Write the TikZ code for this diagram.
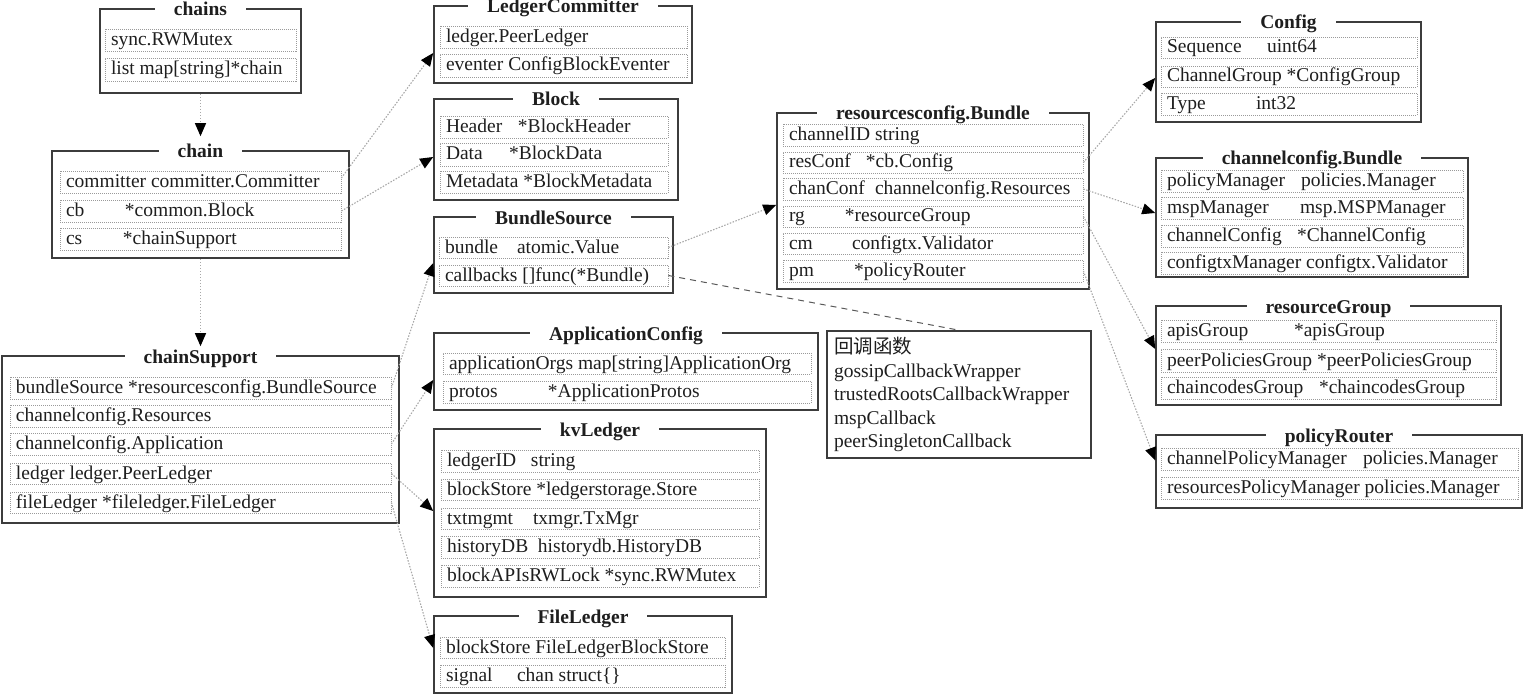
\documentclass[tikz,border=0pt]{standalone}
\usepackage{fontspec}
\setmainfont{Liberation Serif}
\newfontfamily\cjkfont{Noto Sans CJK SC}
\usetikzlibrary{arrows.meta}

\definecolor{boxline}{HTML}{3C3C3C}
\definecolor{rowline}{HTML}{9A9A9A}
\definecolor{linkline}{HTML}{A8A8A8}
\definecolor{ink}{HTML}{1E1E1E}

% a fixed-width first column inside a field row
\newcommand\fieldcol[2]{\makebox[#1pt][l]{#2}}
% struct frame with its title set into the top border: name, x1, y1, x2, y2, title
\newcommand\structbox[6]{%
  \node[structframe, minimum width={#4-#2}, minimum height={#5-#3}] (#1) at ({(#2+#4)/2},{(#3+#5)/2}) {};
  \node[structtitle] (#1-t) at ({(#2+#4)/2},{#3+2.5}) {#6};}
% one dotted field row: name, x1, y1, x2, y2, text
\newcommand\fieldrow[6]{%
  \node[fieldbox, minimum width={#4-#2}, minimum height={#5-#3}] (#1) at ({(#2+#4)/2},{(#3+#5)/2})
    {\makebox[\dimexpr #4pt-#2pt-12pt\relax][l]{#6}};}

\tikzset{
  structframe/.style={draw=boxline, line width=1.6pt, inner sep=0pt},
  structtitle/.style={fill=white, inner xsep=19pt, inner ysep=0pt, text height=13pt, text depth=4pt,
    font=\bfseries\fontsize{19.5}{22}\selectfont, text=ink},
  fieldbox/.style={draw=rowline, line width=0.8pt, dash pattern=on 1pt off 1pt, inner xsep=6pt,
    inner ysep=0pt, text height=15pt, text depth=4pt, font=\fontsize{19.5}{23.5}\selectfont, text=ink},
  notebox/.style={draw=boxline, line width=1.6pt, inner xsep=7pt, inner ysep=0pt, align=left,
    font=\fontsize{19.5}{23.5}\selectfont, text=ink},
  link/.style={draw=linkline, line width=1.1pt, dash pattern=on 1.5pt off 1.5pt,
    -{Triangle[length=13pt,width=11pt,color=black]}},
  notelink/.style={draw=boxline!85, line width=1pt, dash pattern=on 6pt off 5pt},
}

\begin{document}
\begin{tikzpicture}[x=1pt,y=-1pt]
\useasboundingbox (0,0) rectangle (1525,695);

% ---- chains
\structbox{chains}{100}{9}{301}{93}{chains}
\fieldrow{chains-r1}{105}{29}{296}{51}{sync.RWMutex}
\fieldrow{chains-r2}{105}{58}{296}{81}{list map[string]*chain}

% ---- chain
\structbox{chain}{52}{151}{349}{258}{chain}
\fieldrow{chain-r1}{60}{171}{341}{193}{committer committer.Committer}
\fieldrow{chain-r2}{60}{200}{341}{222}{\fieldcol{59}{cb}*common.Block}
\fieldrow{chain-r3}{60}{228}{341}{250}{\fieldcol{57}{cs}*chainSupport}

% ---- chainSupport
\structbox{cs}{2}{356}{399}{523}{chainSupport}
\fieldrow{cs-r1}{10}{377}{391}{399}{bundleSource *resourcesconfig.BundleSource}
\fieldrow{cs-r2}{10}{405}{391}{427}{channelconfig.Resources}
\fieldrow{cs-r3}{10}{433}{391}{455}{channelconfig.Application}
\fieldrow{cs-r4}{10}{463}{391}{484}{ledger ledger.PeerLedger}
\fieldrow{cs-r5}{10}{492}{391}{513}{fileLedger *fileledger.FileLedger}

% ---- LedgerCommitter
\structbox{lc}{434}{6}{692}{83}{LedgerCommitter}
\fieldrow{lc-r1}{440}{26}{687}{48}{ledger.PeerLedger}
\fieldrow{lc-r2}{440}{54}{687}{77}{eventer ConfigBlockEventer}

% ---- Block
\structbox{blk}{434}{99}{678}{200}{Block}
\fieldrow{blk-r1}{440}{116}{668}{138}{\fieldcol{72}{Header}*BlockHeader}
\fieldrow{blk-r2}{440}{143}{668}{166}{\fieldcol{63}{Data}*BlockData}
\fieldrow{blk-r3}{440}{171}{668}{193}{Metadata *BlockMetadata}

% ---- BundleSource
\structbox{bs}{434}{217}{673}{293}{BundleSource}
\fieldrow{bs-r1}{439}{237}{668}{258}{\fieldcol{72}{bundle}atomic.Value}
\fieldrow{bs-r2}{439}{265}{668}{286}{callbacks []func(*Bundle)}

% ---- ApplicationConfig
\structbox{ac}{434}{333}{818}{410}{ApplicationConfig}
\fieldrow{ac-r1}{443}{353}{811}{374}{applicationOrgs map[string]ApplicationOrg}
\fieldrow{ac-r2}{443}{381}{811}{403}{\fieldcol{99}{protos}*ApplicationProtos}

% ---- kvLedger
\structbox{kv}{434}{429}{766}{597}{kvLedger}
\fieldrow{kv-r1}{441}{450}{759}{472}{\fieldcol{84}{ledgerID}string}
\fieldrow{kv-r2}{441}{479}{759}{500}{blockStore *ledgerstorage.Store}
\fieldrow{kv-r3}{441}{508}{759}{529}{\fieldcol{86}{txtmgmt}txmgr.TxMgr}
\fieldrow{kv-r4}{441}{536}{759}{558}{\fieldcol{91}{historyDB}historydb.HistoryDB}
\fieldrow{kv-r5}{441}{565}{759}{587}{blockAPIsRWLock *sync.RWMutex}

% ---- FileLedger
\structbox{fl}{434}{616}{732}{693}{FileLedger}
\fieldrow{fl-r1}{440}{637}{725}{658}{blockStore FileLedgerBlockStore}
\fieldrow{fl-r2}{440}{665}{725}{687}{\fieldcol{71}{signal}chan struct\{\}}

% ---- resourcesconfig.Bundle
\structbox{rb}{777}{113}{1089}{289}{resourcesconfig.Bundle}
\fieldrow{rb-r1}{783}{124}{1083}{146}{channelID string}
\fieldrow{rb-r2}{783}{152}{1083}{173}{\fieldcol{77}{resConf}*cb.Config}
\fieldrow{rb-r3}{783}{178}{1083}{200}{\fieldcol{86}{chanConf}channelconfig.Resources}
\fieldrow{rb-r4}{783}{206}{1083}{227}{\fieldcol{56}{rg}*resourceGroup}
\fieldrow{rb-r5}{783}{233}{1083}{254}{\fieldcol{63}{cm}configtx.Validator}
\fieldrow{rb-r6}{783}{260}{1083}{282}{\fieldcol{65}{pm}*policyRouter}

% ---- callback note
\node[notebox, minimum width=264, minimum height=127, text width=250] (note) at (959,394.5)
  {{\cjkfont 回调函数}\\gossipCallbackWrapper\\trustedRootsCallbackWrapper\\mspCallback\\peerSingletonCallback};

% ---- Config
\structbox{cfg}{1156}{22}{1421}{122}{Config}
\fieldrow{cfg-r1}{1161}{37}{1417}{58}{\fieldcol{100}{Sequence}uint64}
\fieldrow{cfg-r2}{1161}{66}{1417}{87}{ChannelGroup *ConfigGroup}
\fieldrow{cfg-r3}{1161}{93}{1417}{115}{\fieldcol{89}{Type}int32}

% ---- channelconfig.Bundle
\structbox{ccb}{1156}{158}{1468}{277}{channelconfig.Bundle}
\fieldrow{ccb-r1}{1161}{170}{1463}{192}{\fieldcol{134}{policyManager}policies.Manager}
\fieldrow{ccb-r2}{1161}{197}{1463}{219}{\fieldcol{133}{mspManager}msp.MSPManager}
\fieldrow{ccb-r3}{1161}{225}{1463}{247}{\fieldcol{130}{channelConfig}*ChannelConfig}
\fieldrow{ccb-r4}{1161}{252}{1463}{274}{configtxManager configtx.Validator}

% ---- resourceGroup
\structbox{rg}{1156}{306}{1501}{405}{resourceGroup}
\fieldrow{rg-r1}{1161}{320}{1496}{342}{\fieldcol{127}{apisGroup}*apisGroup}
\fieldrow{rg-r2}{1161}{349}{1496}{372}{peerPoliciesGroup *peerPoliciesGroup}
\fieldrow{rg-r3}{1161}{377}{1496}{399}{\fieldcol{152}{chaincodesGroup}*chaincodesGroup}

% ---- policyRouter
\structbox{pr}{1156}{435}{1522}{508}{policyRouter}
\fieldrow{pr-r1}{1161}{448}{1518}{470}{\fieldcol{196}{channelPolicyManager}policies.Manager}
\fieldrow{pr-r2}{1161}{477}{1518}{499}{resourcesPolicyManager policies.Manager}

% ---- references between structs
\draw[link, shorten >=14pt] (chains.south) -- (chain.north);
\draw[link, shorten >=9pt] (chain.south) -- (cs.north);
\draw[link] ([yshift=4pt]chain-r1.east) -- ([yshift=-8.5pt]lc.west);
\draw[link] (chain-r2.east) -- ([yshift=-7.5pt]blk.west);
\draw[link] (cs-r1.east) -- ([yshift=-8pt]bs.west);
\draw[link] (cs-r3.east) -- ([yshift=-8.5pt]ac.west);
\draw[link] (cs-r4.east) -- ([yshift=2pt]kv.west);
\draw[link] (cs-r5.east) -- ([yshift=6.5pt]fl.west);
\draw[link] (bs-r1.east) -- ([yshift=-4pt]rb.west);
\draw[notelink] (bs-r2.east) -- (note.north);
\draw[link] (rb-r2.east) -- ([yshift=-6pt]cfg.west);
\draw[link] (rb-r3.east) -- ([yshift=4.5pt]ccb.west);
\draw[link] (rb-r4.east) -- ([yshift=6.5pt]rg.west);
\draw[link] (rb-r6.east) -- ([yshift=11pt]pr.west);
\end{tikzpicture}
\end{document}
